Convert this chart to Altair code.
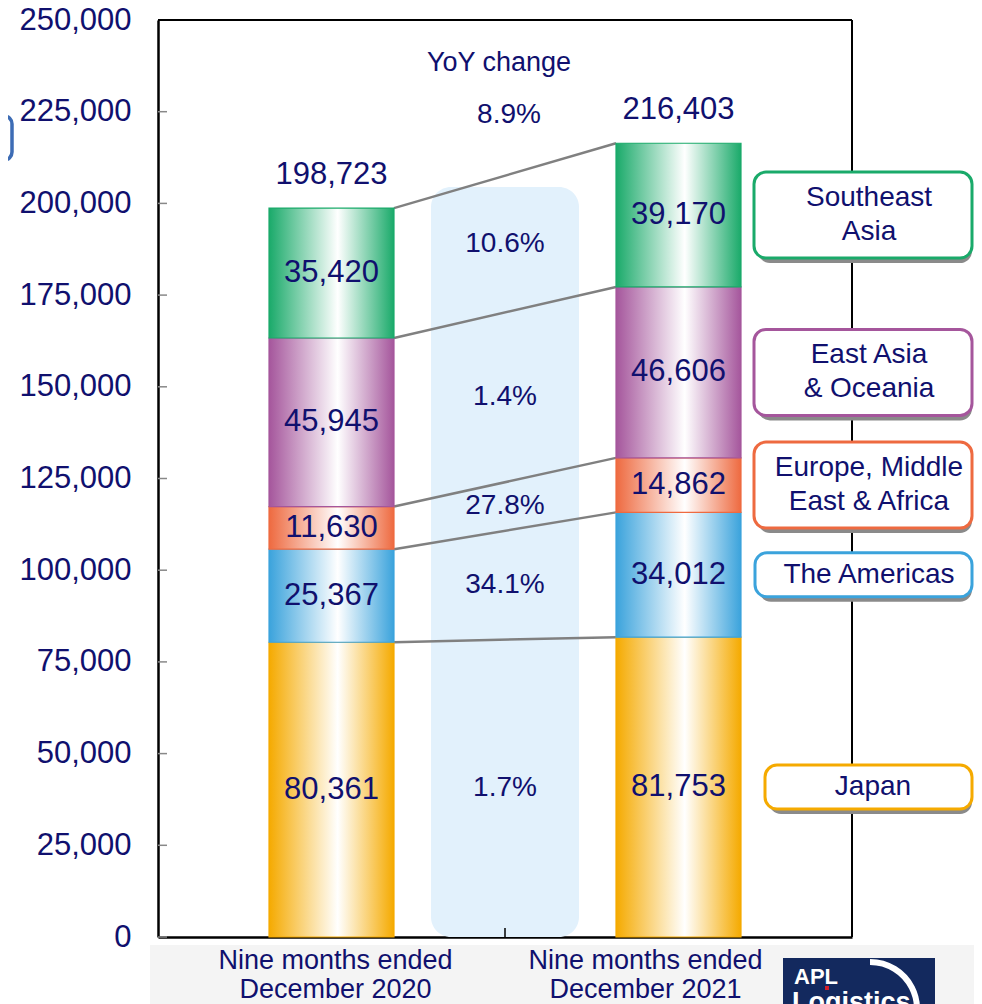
import altair as alt
import pandas as pd

# ---------------- data ----------------
periods = ["2020", "2021"]
period_labels = ["Nine months ended\nDecember 2020", "Nine months ended\nDecember 2021"]
regions = ["Japan", "The Americas", "Europe, Middle East & Africa",
           "East Asia & Oceania", "Southeast Asia"]
legend_labels = ["Japan", "The Americas", "Europe, Middle\nEast & Africa",
                 "East Asia\n& Oceania", "Southeast\nAsia"]
values_2020 = [80361, 25367, 11630, 45945, 35420]
values_2021 = [81753, 34012, 14862, 46606, 39170]
yoy_changes = ["1.7%", "34.1%", "27.8%", "1.4%", "10.6%"]
totals = [198723, 216403]
total_yoy = "8.9%"
yoy_title = "YoY change"
region_colors = ["#f5aa00", "#3ba3dc", "#ee6a40", "#a5569c", "#1aaa6a"]
y_ticks = [0, 25000, 50000, 75000, 100000, 125000, 150000, 175000, 200000, 225000, 250000]

# ---------------- layout / style ----------------
W, H = 694, 917
NAVY = "#10106e"
FONT = "Liberation Sans"
BAR_W = 125
BAND_TOP = 204500  # top of the light-blue YoY band
# legend box geometry (pixels in plot coordinates): (height, x1, x2, text x, dy)
LEGEND_GEOM = {
    "two": (86, 596, 814, 711, -17),
    "americas": (44, 597, 814, 711, 0),
    "japan": (44, 607, 814, 715, 0),
}

# ---------------- tables ----------------
rows = []
for p, vals in zip(periods, [values_2020, values_2021]):
    base = 0
    for r, v, c in zip(regions, vals, region_colors):
        rows.append({"col": p, "region": r, "value": v, "y0": base, "y1": base + v,
                     "mid": base + v / 2, "label": f"{v:,}", "color": c})
        base += v
seg = pd.DataFrame(rows)

s20 = seg[seg.col == "2020"].reset_index(drop=True)
s21 = seg[seg.col == "2021"].reset_index(drop=True)
conn = pd.DataFrame({"a": "2020", "b": "2021", "top20": s20.y1, "top21": s21.y1})
yoy = pd.DataFrame({"col": "YoY", "text": yoy_changes, "y": (s20.mid + s21.mid) / 2})
tot = pd.DataFrame({"col": periods, "total": totals, "label": [f"{t:,}" for t in totals]})
leg = pd.DataFrame({"label": legend_labels, "mid": s21.mid, "color": region_colors})
leg["grp"] = ["japan", "americas", "two", "two", "two"]
band = pd.DataFrame({"col": ["YoY"], "top": [BAND_TOP]})
ticks = pd.DataFrame({"v": y_ticks})
xl = pd.DataFrame({"col": periods, "label": period_labels})

xs = alt.Scale(type="point", domain=["2020", "YoY", "2021"], padding=1)
ys = alt.Scale(domain=[0, 250000], nice=False, zero=True)
XAX = alt.Axis(labels=False, ticks=False, title=None, grid=False,
               domainColor="black", domainWidth=2.5)
YAX = alt.Axis(values=y_ticks, format=",d", labelFontSize=31, labelColor=NAVY,
               labelFont=FONT, labelPadding=27, ticks=False, grid=False, title=None,
               domainColor="black", domainWidth=2.5)


def X(f):
    return alt.X(f, type="nominal", scale=xs, axis=XAX)


def Y(f):
    return alt.Y(f, type="quantitative", scale=ys, axis=YAX)


layers = []

# light grey strip at the bottom of the slide
layers.append(alt.Chart(band).mark_rect(color="#f4f4f4").encode(
    x=alt.value(-8), x2=alt.value(W + 140), y=alt.value(H + 8), y2=alt.value(H + 90)))

# YoY band
layers.append(alt.Chart(band).mark_bar(size=148, color="#e2f1fc", cornerRadius=20).encode(
    x=X("col"), y=Y("top"), y2=alt.datum(0)))

# inner y ticks
layers.append(alt.Chart(ticks).mark_rule(color="#888888", strokeWidth=1.5).encode(
    y=Y("v"), x=alt.value(0), x2=alt.value(9)))

# middle x tick
layers.append(alt.Chart(band).mark_rule(color="black", strokeWidth=1.5).encode(
    x=X("col"), y=alt.value(H), y2=alt.value(H - 9)))

# top and right border
layers.append(alt.Chart(band).mark_rule(color="black", strokeWidth=2).encode(
    x=alt.value(0), x2=alt.value(W), y=alt.value(0)))
layers.append(alt.Chart(band).mark_rule(color="black", strokeWidth=2).encode(
    x=alt.value(W), y=alt.value(0), y2=alt.value(H)))

# connector lines
layers.append(alt.Chart(conn).mark_rule(color="#808080", strokeWidth=2.5,
                                         xOffset=BAR_W / 2, x2Offset=-BAR_W / 2).encode(
    x=X("a"), x2="b", y=Y("top20"), y2="top21"))

# bars with horizontal gradient per region
for r, c in zip(regions, region_colors):
    grad = alt.Gradient(gradient="linear", x1=0, x2=1, y1=0, y2=0,
                        stops=[alt.GradientStop(color=c, offset=0),
                               alt.GradientStop(color="#ffffff", offset=0.55),
                               alt.GradientStop(color=c, offset=1)])
    layers.append(alt.Chart(seg[seg.region == r]).mark_bar(
        size=BAR_W, fill=grad, stroke=c, strokeWidth=1.2).encode(
        x=X("col"), y=Y("y1"), y2="y0"))

# segment labels
layers.append(alt.Chart(seg).mark_text(fontSize=31, font=FONT, color=NAVY,
                                       baseline="middle").encode(
    x=X("col"), y=Y("mid"), text="label"))

# totals
layers.append(alt.Chart(tot).mark_text(fontSize=31, font=FONT, color=NAVY,
                                       baseline="middle", dy=-33).encode(
    x=X("col"), y=Y("total"), text="label"))

# YoY texts
layers.append(alt.Chart(yoy).mark_text(fontSize=28, font=FONT, color=NAVY,
                                       baseline="middle").encode(
    x=X("col"), y=Y("y"), text="text"))
layers.append(alt.Chart(pd.DataFrame({"col": ["YoY"], "t": [total_yoy], "y": [totals[1]]}))
              .mark_text(fontSize=28, font=FONT, color=NAVY, baseline="middle", dy=-28, dx=4)
              .encode(x=X("col"), y=Y("y"), text="t"))
layers.append(alt.Chart(pd.DataFrame({"col": ["YoY"], "t": [yoy_title]}))
              .mark_text(fontSize=27, font=FONT, color=NAVY, baseline="middle", dx=-6)
              .encode(x=X("col"), y=alt.value(43), text="t"))

# legend boxes
for g, (h, x1, x2, tx, dy) in LEGEND_GEOM.items():
    d = leg[leg.grp == g]
    layers.append(alt.Chart(d).mark_rect(height=h, cornerRadius=12, fill="#8a8a8a",
                                         xOffset=4, yOffset=5).encode(
        x=alt.value(x1), x2=alt.value(x2), y=Y("mid")))
    layers.append(alt.Chart(d).mark_rect(height=h, cornerRadius=12, fill="white",
                                         strokeWidth=3).encode(
        x=alt.value(x1), x2=alt.value(x2), y=Y("mid"),
        stroke=alt.Stroke("color:N", scale=None)))
    layers.append(alt.Chart(d).mark_text(fontSize=28, font=FONT, color=NAVY, lineBreak="\n",
                                         lineHeight=34, baseline="middle", dy=dy).encode(
        x=alt.value(tx), y=Y("mid"), text="label"))

# x labels
for p, dx in zip(periods, [4, -33]):
    layers.append(alt.Chart(xl[xl.col == p]).mark_text(
        fontSize=27, font=FONT, color=NAVY, lineBreak="\n", lineHeight=29,
        baseline="middle", dx=dx).encode(x=X("col"), y=alt.value(H + 24), text="label"))

# partial box at far left
layers.append(alt.Chart(band).mark_rect(cornerRadius=8, fill="#8a8a8a", xOffset=4, yOffset=4)
              .encode(x=alt.value(-176), x2=alt.value(-146), y=alt.value(96), y2=alt.value(140)))
layers.append(alt.Chart(band).mark_rect(cornerRadius=8, fill="white", stroke="#3d6cb5",
                                        strokeWidth=3.5)
              .encode(x=alt.value(-176), x2=alt.value(-146), y=alt.value(96), y2=alt.value(140)))

# logo
layers.append(alt.Chart(band).mark_rect(fill="#13295e").encode(
    x=alt.value(625), x2=alt.value(777), y=alt.value(H + 21), y2=alt.value(H + 90)))
layers.append(alt.Chart(band).mark_arc(innerRadius=44, outerRadius=50, theta=0, theta2=2.2,
                                       color="white").encode(
    x=alt.value(712), y=alt.value(H + 72)))
layers.append(alt.Chart(pd.DataFrame({"t": ["APL"]})).mark_text(
    fontSize=22, font=FONT, fontWeight="bold", color="white", align="left", baseline="middle")
    .encode(x=alt.value(636), y=alt.value(H + 40), text="t"))
layers.append(alt.Chart(band).mark_point(shape="square", size=16, filled=True,
                                         color="#d4202a", opacity=1).encode(
    x=alt.value(669), y=alt.value(H + 51)))
layers.append(alt.Chart(pd.DataFrame({"t": ["Logistics"]})).mark_text(
    fontSize=27, font=FONT, fontWeight="bold", color="white", align="left", baseline="middle")
    .encode(x=alt.value(634), y=alt.value(H + 66), text="t"))

chart = alt.layer(*layers).properties(
    width=W, height=H, autosize="none",
    padding={"left": 150, "top": 12, "right": 122, "bottom": 70},
    background="white",
).configure_view(stroke=None)

chart.save("out.html", embed_options={"renderer": "svg", "actions": False})
